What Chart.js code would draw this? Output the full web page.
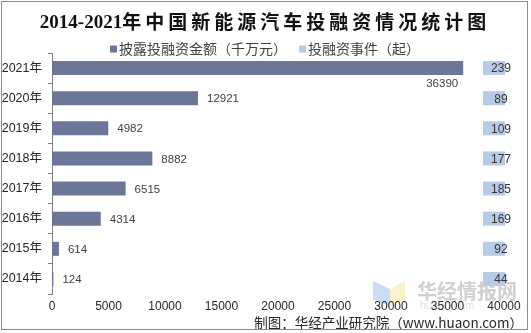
<!DOCTYPE html>
<html>
<head>
<meta charset="utf-8">
<script src="https://cdn.jsdelivr.net/npm/chart.js@4/dist/chart.umd.min.js"></script>
<style>
  html, body { margin: 0; padding: 0; background: #fff; }
  #wrap { position: relative; width: 531px; height: 333px; }
  #frame { position: absolute; left: 1px; top: 1px; width: 527px; height: 329px; border: 1px solid #8c8c8c; box-sizing: border-box; pointer-events: none; }
</style>
</head>
<body>
<div id="wrap">
  <canvas id="c" width="531" height="333"></canvas>
  <div id="frame"></div>
</div>
<script>
// Years, top to bottom
const years = ['2021年', '2020年', '2019年', '2018年', '2017年', '2016年', '2015年', '2014年'];
// Disclosed financing amount (10 million yuan)
const amounts = [36390, 12921, 4982, 8882, 6515, 4314, 614, 124];
// Number of financing events
const events = [239, 89, 109, 177, 185, 169, 92, 44];
// X-axis tick values
const xTicks = [0, 5000, 10000, 15000, 20000, 25000, 30000, 35000, 40000];

const titleYears = '2014-2021';
const titleRest = '年中国新能源汽车投融资情况统计图';
const sourceText = '制图：华经产业研究院（www.huaon.com）';

const AMOUNT_COLOR = '#6c7699';
const EVENT_COLOR = '#b7cbe8';
const TEXT_COLOR = '#404040';

// Title, legend, watermark and source line
const decorPlugin = {
  id: 'decor',
  beforeDraw(chart) {
    const ctx = chart.ctx;
    ctx.save();
    // watermark logo
    ctx.globalAlpha = 0.55;
    ctx.fillStyle = '#9ec0ef';
    ctx.beginPath();
    ctx.moveTo(373, 281); ctx.lineTo(390, 289); ctx.lineTo(390, 306); ctx.lineTo(373, 300); ctx.closePath();
    ctx.fill();
    ctx.fillStyle = '#f7e6a0';
    ctx.beginPath();
    ctx.moveTo(390, 289); ctx.lineTo(405, 281); ctx.lineTo(405, 300); ctx.lineTo(390, 306); ctx.closePath();
    ctx.fill();
    ctx.globalAlpha = 1;
    ctx.fillStyle = '#d0d0d0';
    ctx.font = 'bold 20px "Noto Sans CJK SC"';
    ctx.textBaseline = 'middle';
    ctx.textAlign = 'left';
    ctx.fillText('华经情报网', 417, 291);
    ctx.fillStyle = '#e2e2e2';
    ctx.font = '11px "Liberation Sans"';
    ctx.fillText('huaon.com', 420, 306);
    ctx.restore();
  },
  afterDraw(chart) {
    const ctx = chart.ctx;
    ctx.save();
    // title
    ctx.fillStyle = '#111';
    ctx.textBaseline = 'middle';
    ctx.textAlign = 'left';
    ctx.font = 'bold 19px "Liberation Serif"';
    const w1 = ctx.measureText(titleYears).width;
    ctx.font = 'bold 19px "Noto Sans CJK SC"';
    ctx.letterSpacing = '4px';
    const w2 = ctx.measureText(titleRest).width;
    const x0 = 265 - (w1 + w2) / 2;
    ctx.letterSpacing = '0px';
    ctx.font = 'bold 19px "Liberation Serif"';
    ctx.fillText(titleYears, x0, 23);
    ctx.font = 'bold 19px "Noto Sans CJK SC"';
    ctx.letterSpacing = '4px';
    ctx.fillText(titleRest, x0 + w1, 22);
    ctx.letterSpacing = '0px';

    // legend built from the datasets
    ctx.font = '14px "Noto Sans CJK SC"';
    const items = chart.data.datasets.map(ds => ({
      text: ds.label, color: ds.backgroundColor, w: ctx.measureText(ds.label).width
    }));
    const box = 7, gapBox = 2, gapItem = 12;
    const total = items.reduce((s, it) => s + box + gapBox + it.w, 0) + gapItem * (items.length - 1);
    let lx = 265 - total / 2;
    const ly = 49;
    items.forEach(it => {
      ctx.fillStyle = it.color;
      ctx.fillRect(lx, ly - box / 2, box, box);
      lx += box + gapBox;
      ctx.fillStyle = TEXT_COLOR;
      ctx.fillText(it.text, lx, ly);
      lx += it.w + gapItem;
    });

    // source line
    ctx.fillStyle = '#262626';
    ctx.font = '13.5px "Noto Sans CJK SC"';
    ctx.textAlign = 'right';
    ctx.fillText(sourceText, 523, 323);
    ctx.restore();
  }
};

// Value labels for amounts; boxed labels for event counts
const labelPlugin = {
  id: 'labels',
  beforeDatasetDraw(chart, args) {
    // event counts are drawn as boxed labels in the right column
    if (args.index === 1) return false;
  },
  afterDatasetsDraw(chart) {
    const ctx = chart.ctx;
    const area = chart.chartArea;
    ctx.save();
    ctx.font = '11.5px "Liberation Sans"';
    ctx.fillStyle = TEXT_COLOR;
    ctx.textBaseline = 'middle';
    const m0 = chart.getDatasetMeta(0);
    m0.data.forEach((bar, i) => {
      const txt = String(amounts[i]);
      const w = ctx.measureText(txt).width;
      if (bar.x + 9 + w > area.right - 30) {
        ctx.textAlign = 'right';
        ctx.fillText(txt, bar.x - 5, bar.y + 16);
      } else {
        ctx.textAlign = 'left';
        ctx.fillText(txt, bar.x + 9, bar.y + 1);
      }
    });
    const m1 = chart.getDatasetMeta(1);
    m1.data.forEach((bar, i) => {
      const h = m0.data[i].height;
      const bx = area.right - 21;
      ctx.fillStyle = EVENT_COLOR;
      ctx.fillRect(bx, m0.data[i].y - h / 2, 22, h);
      ctx.fillStyle = '#333';
      ctx.textAlign = 'center';
      ctx.font = '12px "Liberation Sans"';
      ctx.fillText(String(events[i]), bx + 18, m0.data[i].y + 1);
    });
    ctx.restore();
  }
};

new Chart(document.getElementById('c'), {
  type: 'bar',
  data: {
    labels: years,
    datasets: [
      {
        label: '披露投融资金额（千万元）',
        data: amounts,
        backgroundColor: AMOUNT_COLOR,
        barPercentage: 0.93,
        categoryPercentage: 0.5,
        xAxisID: 'x',
        grouped: false
      },
      {
        label: '投融资事件（起）',
        data: events,
        backgroundColor: EVENT_COLOR,
        barPercentage: 0.93,
        categoryPercentage: 0.5,
        xAxisID: 'x2',
        grouped: false
      }
    ]
  },
  options: {
    indexAxis: 'y',
    responsive: false,
    animation: false,
    events: [],
    layout: { padding: { left: 0, right: 27, top: 53, bottom: 0 } },
    plugins: {
      title: { display: false },
      tooltip: { enabled: false },
      legend: { display: false }
    },
    scales: {
      x: {
        position: 'bottom',
        min: 0,
        max: 40000,
        afterBuildTicks(axis) { axis.ticks = xTicks.map(v => ({ value: v })); },
        afterFit(scale) { scale.height = 39; },
        grid: { display: false, drawTicks: false },
        border: { display: false },
        ticks: {
          color: '#262626',
          padding: 5,
          maxRotation: 0,
          autoSkip: false,
          callback: v => String(v),
          font: { size: 12, family: '"Liberation Sans"' }
        }
      },
      x2: {
        display: false,
        min: 0,
        max: 300
      },
      y: {
        offset: true,
        afterFit(scale) { scale.width = 52; },
        grid: { display: true, drawOnChartArea: false, offset: true, tickLength: 4, color: '#808080' },
        border: { display: true, color: '#808080' },
        ticks: {
          color: '#262626',
          padding: 6,
          font: { size: 12.5, family: '"Liberation Sans", "Noto Sans CJK SC"' }
        }
      }
    }
  },
  plugins: [decorPlugin, labelPlugin]
});
</script>
</body>
</html>
